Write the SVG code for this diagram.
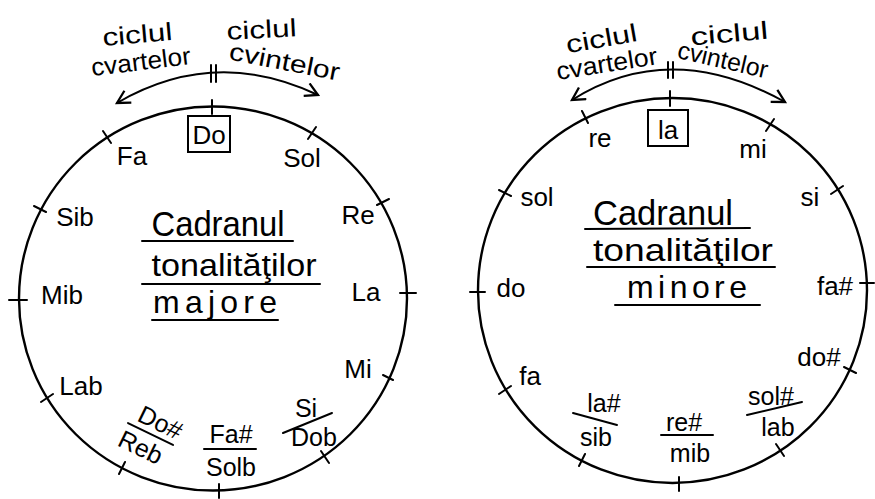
<svg xmlns="http://www.w3.org/2000/svg" width="875" height="499" viewBox="0 0 875 499">
<style>
text{font-family:"Liberation Sans","DejaVu Sans",sans-serif;fill:#000;text-anchor:middle}
.lbl{font-size:26px}
.fr{font-size:25px}
.top{font-size:25px}
.ctr{font-size:35px}
.ctr2{font-size:32px}
.ln{stroke:#000;stroke-width:2;fill:none;stroke-linecap:round}
.circ{stroke:#000;stroke-width:2.4;fill:none}
.box{stroke:#000;stroke-width:2;fill:none}
</style>
<defs>
<marker id="arr" viewBox="0 0 14 14" refX="12" refY="7" markerWidth="16" markerHeight="16" markerUnits="userSpaceOnUse" orient="auto-start-reverse">
<path d="M1,1 L12,7 L1,13" fill="none" stroke="#000" stroke-width="2"/>
</marker>
</defs>
<rect width="875" height="499" fill="#fff"/>

<!-- LEFT: major keys -->
<g id="circle-major">
<ellipse class="circ" cx="213" cy="298.5" rx="194" ry="192"/>
<path class="ln" d="M212,100 L212,114 M103,131 L111,143 M308,139 L316,127 M34,206 L46,212 M377,205 L389,199 M9,300 L27,300 M400,293 L416,293 M41,402 L53,394 M383,375 L393,380 M125,462 L119,474 M321,451 L329,463 M219,484 L219,498"/>
</g>

<g id="title-major">
<text class="ctr" x="218" y="236" textLength="133" lengthAdjust="spacingAndGlyphs">Cadranul</text>
<line class="ln" x1="142" y1="241" x2="293" y2="241"/>
<text class="ctr2" x="234" y="276" textLength="165" lengthAdjust="spacingAndGlyphs">tonalităţilor</text>
<line class="ln" x1="142" y1="284" x2="320" y2="284"/>
<text class="ctr2" x="215" y="313" textLength="124" lengthAdjust="spacing">majore</text>
<line class="ln" x1="152" y1="320" x2="278" y2="320"/>
</g>

<g id="key-Do"><rect class="box" x="188" y="116" width="42" height="36"/><text class="lbl" x="209" y="144">Do</text></g>
<g id="key-Fa"><text class="lbl" x="132" y="165">Fa</text></g>
<g id="key-Sol"><text class="lbl" x="302" y="167">Sol</text></g>
<g id="key-Sib"><text class="lbl" x="75" y="226">Sib</text></g>
<g id="key-Re"><text class="lbl" x="358" y="224">Re</text></g>
<g id="key-Mib"><text class="lbl" x="62" y="304">Mib</text></g>
<g id="key-La"><text class="lbl" x="366" y="301">La</text></g>
<g id="key-Lab"><text class="lbl" x="81" y="395">Lab</text></g>
<g id="key-Mi"><text class="lbl" x="358" y="378">Mi</text></g>
<g id="key-Dodiez-Reb" transform="translate(150.5,434) rotate(26)">
<text class="fr" x="4" y="-6">Do#</text>
<line class="ln" x1="-25" y1="0" x2="25" y2="0"/>
<text class="fr" x="-3" y="25">Reb</text>
</g>
<g id="key-Fadiez-Solb">
<text class="fr" x="231" y="443">Fa#</text>
<line class="ln" x1="204" y1="449" x2="256" y2="449"/>
<text class="fr" x="231" y="476">Solb</text>
</g>
<g id="key-Si-Dob">
<text class="fr" x="306" y="417">Si</text>
<line class="ln" x1="283" y1="433" x2="332" y2="413"/>
<text class="fr" x="314" y="446">Dob</text>
</g>

<g id="label-cvarte-major">
<text class="top" transform="translate(138,43) rotate(-5)" textLength="70" lengthAdjust="spacingAndGlyphs">ciclul</text>
<text class="top" transform="translate(142,70) rotate(-7)" textLength="100" lengthAdjust="spacingAndGlyphs">cvartelor</text>
</g>
<g id="label-cvinte-major">
<text class="top" transform="translate(262,38) rotate(-3)" textLength="70" lengthAdjust="spacingAndGlyphs">ciclul</text>
<text class="top" transform="translate(283,70) rotate(11)" textLength="112" lengthAdjust="spacingAndGlyphs">cvintelor</text>
</g>

<!-- RIGHT: minor keys -->
<g id="circle-minor">
<ellipse class="circ" cx="672.5" cy="290.5" rx="194.5" ry="192.5"/>
<path class="ln" d="M670,91 L670,106 M582,111 L588,123 M766,131 L774,119 M499,190 L511,196 M831,194 L843,186 M470,292 L485,292 M860,283 L874,283 M844,367 L856,373 M499,394 L511,386 M776,444 L784,456 M585,454 L579,466 M679,477 L679,491"/>
</g>

<g id="title-minor">
<text class="ctr" x="663" y="225" textLength="140" lengthAdjust="spacingAndGlyphs">Cadranul</text>
<line class="ln" x1="585" y1="229" x2="750" y2="228"/>
<text class="ctr2" x="683" y="261" textLength="180" lengthAdjust="spacingAndGlyphs">tonalităţilor</text>
<line class="ln" x1="587" y1="267" x2="775" y2="267"/>
<text class="ctr2" x="687" y="298" textLength="120" lengthAdjust="spacing">minore</text>
<line class="ln" x1="615" y1="305" x2="760" y2="305"/>
</g>

<g id="key-la"><rect class="box" x="648" y="110" width="40" height="36"/><text class="lbl" x="668" y="139">la</text></g>
<g id="key-re"><text class="lbl" x="600" y="147">re</text></g>
<g id="key-mi"><text class="lbl" x="753" y="158">mi</text></g>
<g id="key-sol"><text class="lbl" x="537" y="206">sol</text></g>
<g id="key-si"><text class="lbl" x="810" y="206">si</text></g>
<g id="key-do"><text class="lbl" x="511" y="297">do</text></g>
<g id="key-fadiez"><text class="lbl" x="835" y="295">fa#</text></g>
<g id="key-fa"><text class="lbl" x="530" y="385">fa</text></g>
<g id="key-dodiez"><text class="lbl" x="819" y="366">do#</text></g>
<g id="key-ladiez-sib">
<text class="fr" x="604" y="412">la#</text>
<line class="ln" x1="573" y1="413" x2="617" y2="425"/>
<text class="fr" x="596" y="446">sib</text>
</g>
<g id="key-rediez-mib">
<text class="fr" x="684" y="431">re#</text>
<line class="ln" x1="661" y1="435" x2="713" y2="435"/>
<text class="fr" x="690" y="462">mib</text>
</g>
<g id="key-soldiez-lab">
<text class="fr" x="771" y="405">sol#</text>
<line class="ln" x1="747" y1="415" x2="802" y2="402"/>
<text class="fr" x="778" y="436">lab</text>
</g>

<g id="label-cvarte-minor">
<text class="top" transform="translate(603,47) rotate(-10)" textLength="72" lengthAdjust="spacingAndGlyphs">ciclul</text>
<text class="top" transform="translate(608,72) rotate(-9)" textLength="102" lengthAdjust="spacingAndGlyphs">cvartelor</text>
</g>
<g id="label-cvinte-minor">
<text class="top" transform="translate(730,42) rotate(-5)" textLength="78" lengthAdjust="spacingAndGlyphs">ciclul</text>
<text class="top" transform="translate(721,68) rotate(13)" textLength="92" lengthAdjust="spacingAndGlyphs">cvintelor</text>
</g>

<!-- connectors -->
<g id="connectors">
<path class="ln" d="M117,103 Q215,46 318,95" marker-start="url(#arr)" marker-end="url(#arr)"/>
<path class="ln" d="M211,65 L211,82 M216,65 L216,82"/>
<path class="ln" d="M572,100 Q670,38 785,102" marker-start="url(#arr)" marker-end="url(#arr)"/>
<path class="ln" d="M668,62 L668,78 M673,62 L673,78"/>
</g>
</svg>
